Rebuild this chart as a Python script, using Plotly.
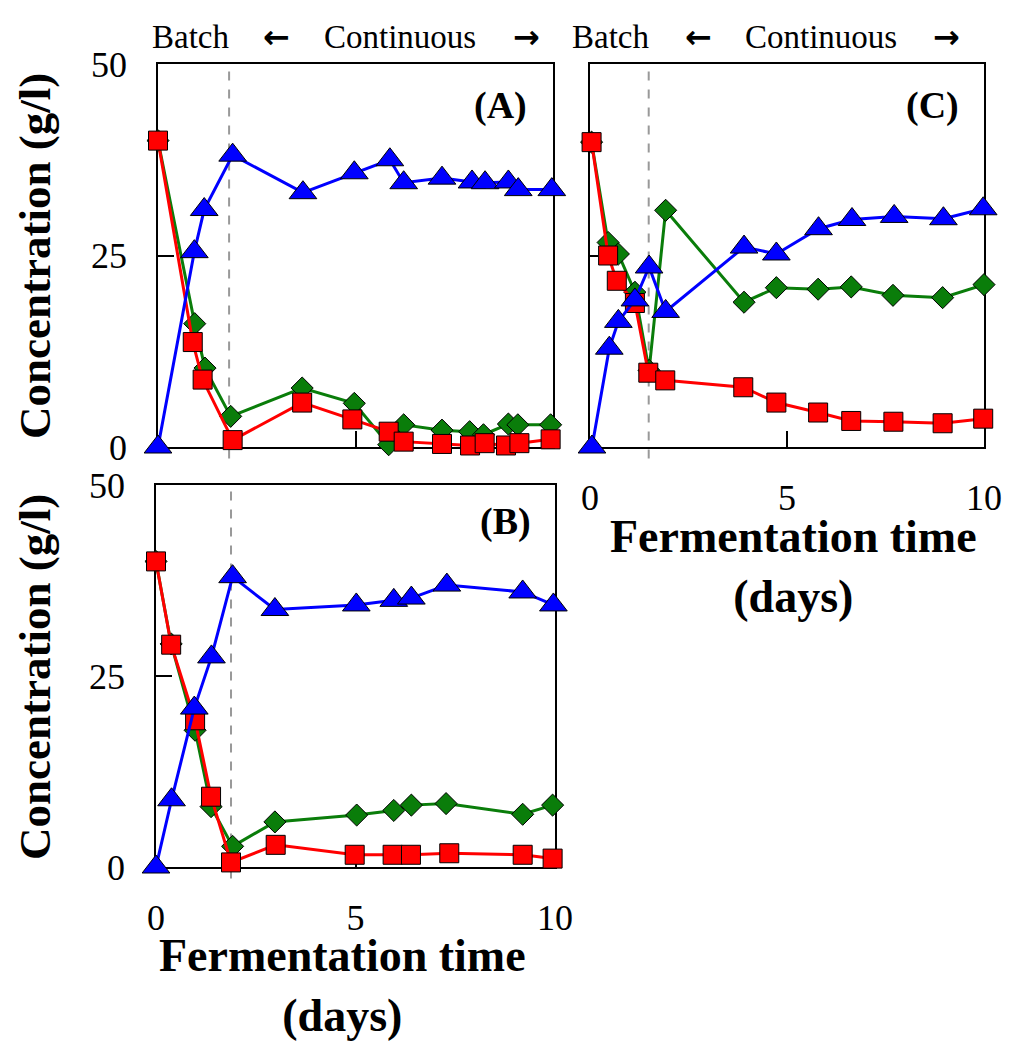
import plotly.graph_objects as go

# ---------------- data ----------------
# Panel A
a_x_prod = [0, 0.92, 1.17, 1.89, 3.67, 4.97, 5.87, 6.22, 7.19, 7.95, 8.28, 8.87, 9.12, 9.97]
a_prod = [0, 25.5, 31.0, 38.1, 33.2, 35.8, 37.5, 34.5, 35.1, 34.6, 34.5, 34.6, 33.6, 33.6]
a_x_red = [0, 0.88, 1.13, 1.89, 3.65, 4.92, 5.84, 6.22, 7.19, 7.90, 8.27, 8.81, 9.15, 9.94]
a_red = [40.0, 13.7, 8.8, 0.9, 5.8, 3.6, 2.0, 0.7, 0.4, 0.2, 0.5, 0.2, 0.5, 1.0]
a_x_green = [0, 0.93, 1.19, 1.84, 3.65, 4.97, 5.84, 6.22, 7.19, 7.89, 8.24, 8.87, 9.11, 9.94]
a_green = [40.0, 16.1, 10.3, 4.0, 7.7, 5.7, 0.3, 2.9, 2.2, 2.0, 1.6, 3.0, 2.9, 2.9]

# Panel B
b_x_prod = [0, 0.39, 0.96, 1.39, 1.92, 2.98, 5.02, 5.96, 6.40, 7.29, 9.19, 9.96]
b_prod = [0, 8.8, 20.8, 27.5, 38.0, 33.7, 34.3, 34.9, 35.2, 36.9, 36.0, 34.3]
b_x_red = [0, 0.38, 0.98, 1.38, 1.88, 3.00, 4.98, 5.93, 6.39, 7.35, 9.19, 9.94]
b_red = [40.0, 29.1, 19.2, 9.2, 0.6, 2.9, 1.6, 1.6, 1.6, 1.8, 1.6, 1.1]
b_x_green = [0, 0.38, 0.98, 1.38, 1.92, 2.98, 5.03, 5.96, 6.40, 7.27, 9.19, 9.94]
b_green = [40.0, 29.2, 17.9, 7.9, 2.7, 5.9, 6.8, 7.4, 8.1, 8.3, 6.9, 8.1]

# Panel C
c_x_prod = [0.05, 0.49, 0.72, 1.14, 1.50, 1.92, 3.91, 4.73, 5.80, 6.65, 7.72, 8.97, 9.98]
c_prod = [0, 12.9, 16.4, 19.2, 23.5, 17.7, 26.1, 25.2, 28.5, 29.7, 30.1, 29.8, 31.1]
c_x_red = [0.04, 0.46, 0.68, 1.14, 1.48, 1.91, 3.89, 4.73, 5.79, 6.63, 7.70, 8.95, 9.98]
c_red = [39.8, 25.0, 21.7, 18.8, 9.7, 8.7, 7.8, 5.8, 4.5, 3.4, 3.3, 3.1, 3.7]
c_x_green = [0.04, 0.46, 0.72, 1.14, 1.50, 1.92, 3.91, 4.73, 5.79, 6.63, 7.69, 8.95, 10.0]
c_green = [39.8, 26.7, 25.2, 20.2, 10.0, 30.9, 18.9, 20.8, 20.6, 20.9, 19.8, 19.5, 21.2]

batch_end = {"A": 1.8, "B": 1.88, "C": 1.49}
x_ticks = [0, 5, 10]
y_ticks = [0, 25, 50]
panel_labels = ["(A)", "(B)", "(C)"]
header_texts = ["Batch", "←", "Continuous", "→"]

# ---------------- figure ----------------
FONT = "Liberation Serif"
fig = go.Figure()

BLUE, RED, GREEN = "#0000FF", "#FF0000", "#0A7D0A"


def add_panel(xa, ya, xr, yr, xg, yg, xp, yp):
    fig.add_trace(go.Scatter(
        x=xg, y=yg, xaxis=xa, yaxis=ya, mode="lines+markers", cliponaxis=False,
        line=dict(color=GREEN, width=3),
        marker=dict(symbol="diamond", size=17, color=GREEN, line=dict(color="black", width=1)),
        showlegend=False))
    fig.add_trace(go.Scatter(
        x=xr, y=yr, xaxis=xa, yaxis=ya, mode="lines+markers", cliponaxis=False,
        line=dict(color=RED, width=3),
        marker=dict(symbol="square", size=19, color=RED, line=dict(color="black", width=1)),
        showlegend=False))
    fig.add_trace(go.Scatter(
        x=xp, y=yp, xaxis=xa, yaxis=ya, mode="lines+markers", cliponaxis=False,
        line=dict(color=BLUE, width=3),
        marker=dict(symbol="triangle-up", size=24, color=BLUE, line=dict(color="black", width=1)),
        showlegend=False))


add_panel("x", "y", a_x_red, a_red, a_x_green, a_green, a_x_prod, a_prod)
add_panel("x2", "y2", b_x_red, b_red, b_x_green, b_green, b_x_prod, b_prod)
add_panel("x3", "y3", c_x_red, c_red, c_x_green, c_green, c_x_prod, c_prod)

OFF = 8                      # page body margin
W, H = 1014 - OFF, 1050 - OFF


def px(v):
    return (v - OFF) / W


def py(v):
    return 1 - (v - OFF) / H


def xd(a, b):
    return [px(a), px(b)]


def yd(top, bottom):
    return [py(bottom), py(top)]


axis_common = dict(
    showline=True, linecolor="black", linewidth=1.5, mirror=True,
    showgrid=False, zeroline=False, ticks="inside", ticklen=16,
    tickcolor="black", tickwidth=1.5, layer="below traces", automargin=False,
    tickfont=dict(family=FONT, size=36, color="black"),
)

fig.update_layout(
    xaxis=dict(domain=xd(158, 553), range=[0, 10], tickvals=x_ticks, showticklabels=False,
               anchor="y", **axis_common),
    yaxis=dict(domain=yd(64, 447), range=[0, 50], tickvals=y_ticks, anchor="x",
               ticklabelstandoff=22, **axis_common),
    xaxis2=dict(domain=xd(156, 555), range=[0, 10], tickvals=x_ticks, anchor="y2",
                ticklabelstandoff=18, **axis_common),
    yaxis2=dict(domain=yd(485, 867), range=[0, 50], tickvals=y_ticks, anchor="x2",
                ticklabelstandoff=22, **axis_common),
    xaxis3=dict(domain=xd(590, 984), range=[0, 10], tickvals=x_ticks, anchor="y3",
                ticklabelstandoff=18, **axis_common),
    yaxis3=dict(domain=yd(64, 447), range=[0, 50], tickvals=y_ticks, anchor="x3",
                showticklabels=False, **{**axis_common, "ticklen": 8}),
)

# dashed batch/continuous separators
for key, xr, yr in [("A", "x", "y"), ("B", "x2", "y2"), ("C", "x3", "y3")]:
    fig.add_shape(type="line", xref=xr, yref=yr + " domain",
                  x0=batch_end[key], x1=batch_end[key], y0=-0.03, y1=1,
                  line=dict(color="#999999", width=2, dash="dash"), layer="below")

ann = []
# panel labels
for lab, (xc, yc) in zip(panel_labels, [(500, 105), (505, 522), (932, 106)]):
    ann.append(dict(text="<b>%s</b>" % lab, xref="paper", yref="paper",
                    x=px(xc), y=py(yc), xanchor="center", yanchor="middle", showarrow=False,
                    font=dict(family=FONT, size=38, color="black")))

# header texts
for xs in ([190, 276, 400, 526], [610, 698, 821, 946]):
    for t, xp in zip(header_texts, xs):
        is_arrow = t in ("←", "→")
        ann.append(dict(text="<b>%s</b>" % t if is_arrow else t, xref="paper", yref="paper",
                        x=px(xp), y=py(37), xanchor="center", yanchor="middle", showarrow=False,
                        font=dict(family="DejaVu Sans" if is_arrow else FONT,
                                  size=32 if is_arrow else 33, color="black")))

# y titles
for yc in (256, 677):
    ann.append(dict(text="<b>Concentration (g/l)</b>", xref="paper", yref="paper",
                    x=px(35), y=py(yc), textangle=-90, xanchor="center", yanchor="middle",
                    showarrow=False, font=dict(family=FONT, size=45, color="black")))

# x titles
for xc, yc in ((342, 985), (793, 566)):
    ann.append(dict(text="<b>Fermentation time<br>(days)</b>", xref="paper", yref="paper",
                    x=px(xc), y=py(yc), xanchor="center", yanchor="middle", showarrow=False,
                    font=dict(family=FONT, size=46, color="black")))

fig.update_layout(
    annotations=ann,
    width=W, height=H, autosize=False,
    margin=dict(l=0, r=0, t=0, b=0, pad=0, autoexpand=False),
    paper_bgcolor="white", plot_bgcolor="white",
    font=dict(family=FONT, color="black"),
    showlegend=False,
)

fig.write_html("out.html")
